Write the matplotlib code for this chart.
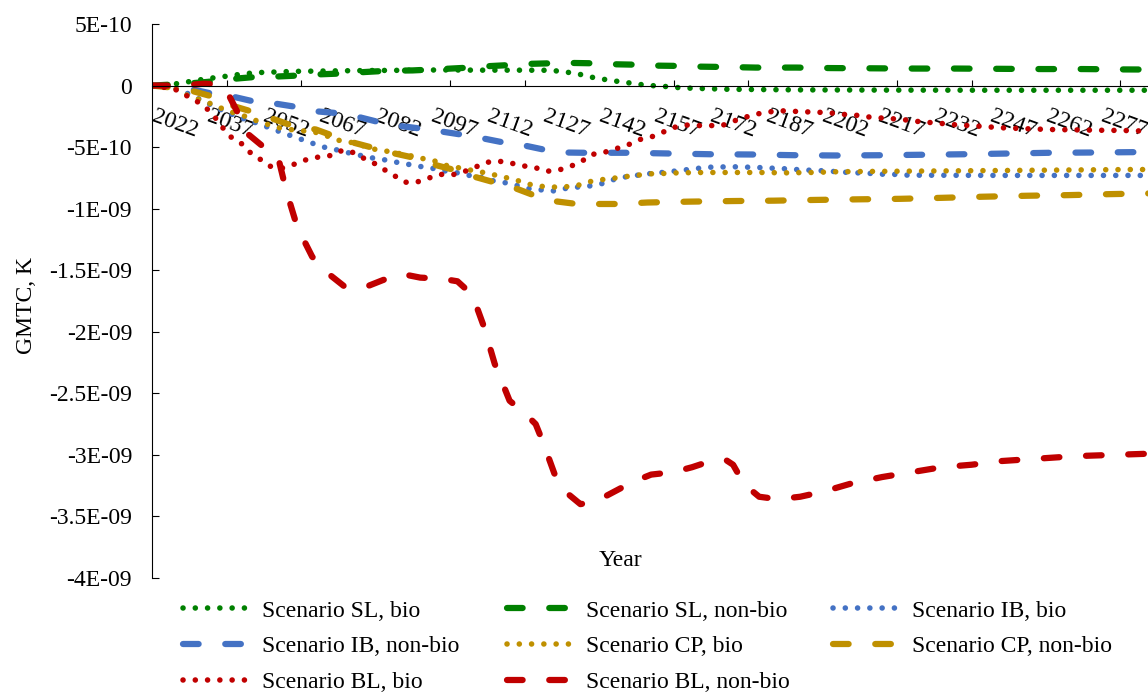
import matplotlib
matplotlib.use("Agg")
import matplotlib.pyplot as plt
from matplotlib.transforms import ScaledTranslation

plt.rcParams['font.family'] = ['Liberation Serif', 'DejaVu Serif']

# Values are given in units of 1e-10 K
UNIT = 1e-10

sl_bio_years = [2022, 2028, 2031, 2034, 2037, 2040, 2043, 2047, 2051, 2055, 2060, 2070, 2080,
                2090, 2100, 2110, 2120, 2128, 2131, 2134, 2137, 2140, 2143, 2147, 2150, 2153,
                2156, 2160, 2163, 2167, 2172, 2176, 2183, 2195, 2220, 2250, 2290]
sl_bio = [0, 0.12, 0.27, 0.42, 0.57, 0.68, 0.8, 0.97, 1.06, 1.1, 1.15, 1.19, 1.22,
          1.24, 1.27, 1.25, 1.25, 1.24, 1.18, 1.06, 0.9, 0.68, 0.52, 0.34, 0.22, 0.09,
          0.0, -0.08, -0.16, -0.22, -0.26, -0.3, -0.32, -0.35, -0.37, -0.38, -0.38]

sl_nonbio_years = [2022, 2030, 2037, 2044, 2049, 2056, 2061, 2066, 2072, 2078, 2085, 2092,
                   2101, 2106, 2112, 2117, 2123, 2128, 2134, 2140, 2146, 2151, 2157, 2162,
                   2168, 2173, 2179, 2184, 2195, 2204, 2216, 2227, 2238, 2249, 2261, 2272,
                   2283, 2290]
sl_nonbio = [0, 0.12, 0.3, 0.55, 0.68, 0.74, 0.81, 0.9, 0.97, 1.08, 1.2, 1.23,
             1.36, 1.44, 1.57, 1.65, 1.76, 1.8, 1.84, 1.81, 1.73, 1.7, 1.62, 1.6,
             1.54, 1.52, 1.49, 1.46, 1.46, 1.42, 1.4, 1.38, 1.38, 1.36, 1.34, 1.34,
             1.31, 1.3]

ib_bio_years = [2022, 2028, 2032, 2036, 2040, 2044, 2048, 2050, 2053, 2056, 2059, 2062, 2065,
                2068, 2072, 2075, 2078, 2081, 2085, 2088, 2091, 2094, 2098, 2101, 2104,
                2107, 2110, 2114, 2117, 2120, 2124, 2127, 2130, 2133, 2137, 2140, 2143,
                2146, 2150, 2153, 2156, 2159, 2162, 2166, 2169, 2172, 2175, 2179, 2182,
                2185, 2189, 2192, 2195, 2198, 2202, 2205, 2208, 2212, 2215, 2218, 2222,
                2225, 2250, 2290]
ib_bio = [0, -0.2, -0.7, -1.3, -1.9, -2.4, -2.85, -3.03, -3.37, -3.71, -4.04, -4.36, -4.68,
          -4.99, -5.25, -5.48, -5.68, -5.87, -6.06, -6.25, -6.41, -6.57, -6.76, -6.96, -7.09,
          -7.29, -7.43, -7.77, -7.9, -8.12, -8.44, -8.48, -8.56, -8.36, -8.22, -8.14, -7.95,
          -7.63, -7.36, -7.26, -7.14, -7.06, -6.96, -6.82, -6.71, -6.63, -6.61, -6.6, -6.63,
          -6.66, -6.72, -6.76, -6.82, -6.87, -6.92, -6.98, -7.04, -7.1, -7.14, -7.2, -7.22,
          -7.28, -7.3, -7.3]

ib_nonbio_years = [2022, 2030, 2033, 2038, 2044, 2049, 2055, 2060, 2066, 2071, 2077, 2082,
                   2089, 2094, 2099, 2105, 2111, 2116, 2122, 2127, 2133, 2138, 2150, 2161,
                   2172, 2183, 2195, 2206, 2217, 2229, 2240, 2252, 2263, 2274, 2285, 2290]
ib_nonbio = [0, -0.1, -0.32, -0.65, -0.92, -1.27, -1.46, -1.7, -2.09, -2.22, -2.52, -2.9,
             -3.3, -3.49, -3.7, -3.98, -4.3, -4.6, -4.87, -5.19, -5.44, -5.46, -5.46, -5.52,
             -5.58, -5.6, -5.66, -5.68, -5.66, -5.62, -5.58, -5.52, -5.46, -5.44, -5.41, -5.4]

cp_bio_years = [2022, 2028, 2031, 2034, 2038, 2041, 2044, 2047, 2050, 2054, 2057, 2062,
                2066, 2069, 2072, 2076, 2082, 2085, 2089, 2092, 2095, 2098, 2102, 2105,
                2108, 2111, 2115, 2118, 2121, 2124, 2127, 2131, 2134, 2137, 2140, 2144,
                2147, 2150, 2153, 2157, 2160, 2163, 2170, 2185, 2192, 2199, 2206, 2213,
                2222, 2250, 2285, 2290]
cp_bio = [0, -0.2, -0.73, -1.06, -1.5, -1.89, -2.22, -2.5, -2.85, -3.25, -3.51, -3.66,
          -3.81, -4.1, -4.44, -4.65, -5.19, -5.33, -5.56, -5.74, -5.95, -6.14, -6.6, -6.7,
          -6.9, -7.06, -7.33, -7.55, -7.79, -8.08, -8.2, -8.26, -8.2, -8.06, -7.77, -7.59,
          -7.49, -7.36, -7.26, -7.14, -7.14, -7.09, -7.06, -7.06, -7.09, -7.06, -7.0, -6.98,
          -6.96, -6.9, -6.82, -6.82]

cp_nonbio_years = [2022, 2030, 2033, 2038, 2044, 2050, 2055, 2060, 2066, 2071, 2076, 2081,
                   2086, 2092, 2097, 2103, 2108, 2114, 2119, 2124, 2130, 2135, 2141, 2147,
                   2155, 2166, 2178, 2189, 2200, 2212, 2223, 2234, 2245, 2257, 2268, 2279,
                   2288, 2290]
cp_nonbio = [0, -0.25, -0.46, -0.87, -1.68, -2.22, -2.76, -3.3, -3.57, -4.12, -4.63, -5.03,
             -5.44, -5.84, -6.37, -6.84, -7.36, -7.87, -8.28, -8.85, -9.39, -9.58, -9.62, -9.62,
             -9.5, -9.43, -9.38, -9.35, -9.29, -9.24, -9.2, -9.12, -9.03, -8.95, -8.9, -8.82,
             -8.77, -8.76]

bl_bio_years = [2022, 2028, 2031, 2034, 2037, 2039, 2041, 2043, 2046, 2048, 2051, 2054,
                2057, 2060, 2063, 2066, 2070, 2072, 2075, 2078, 2081, 2084, 2087, 2090,
                2093, 2096, 2099, 2103, 2105, 2109, 2112, 2115, 2118, 2121, 2125, 2128,
                2131, 2134, 2137, 2140, 2143, 2146, 2150, 2153, 2156, 2159, 2162, 2165,
                2168, 2172, 2175, 2178, 2181, 2184, 2188, 2191, 2194, 2197, 2201, 2204,
                2208, 2211, 2214, 2217, 2221, 2224, 2227, 2230, 2234, 2237, 2244, 2250,
                2257, 2263, 2270, 2276, 2283, 2290]
bl_bio = [0, -0.27, -0.77, -1.27, -1.95, -2.62, -3.43, -4.14, -4.71, -5.36, -5.98, -6.6,
          -6.7, -6.41, -6.06, -5.84, -5.68, -5.33, -5.28, -5.79, -6.19, -6.76, -7.31, -7.85,
          -7.85, -7.55, -7.22, -7.22, -7.09, -6.6, -6.23, -6.14, -6.27, -6.49, -6.68, -6.96,
          -6.88, -6.6, -6.23, -5.6, -5.46, -5.19, -4.79, -4.38, -4.18, -3.81, -3.41, -3.2,
          -3.25, -3.25, -3.25, -2.9, -2.6, -2.33, -2.13, -2.05, -2.09, -2.13, -2.17, -2.22,
          -2.35, -2.41, -2.54, -2.62, -2.7, -2.78, -2.9, -2.98, -3.08, -3.17, -3.3, -3.43,
          -3.51, -3.57, -3.6, -3.63, -3.65, -3.71]

bl_nonbio_years = [2022, 2030, 2036, 2040, 2042, 2045, 2048, 2052, 2056, 2058, 2061, 2065,
                   2069, 2074, 2079, 2084, 2089, 2094, 2100, 2104, 2108, 2111, 2114, 2118,
                   2122, 2125, 2127, 2130, 2133, 2137, 2141, 2146, 2151, 2156, 2162, 2167,
                   2172, 2176, 2178, 2181, 2185, 2190, 2196, 2202, 2210, 2218, 2226, 2234,
                   2242, 2250, 2260, 2270, 2280, 2290]
bl_nonbio = [0, 0, 0.15, 0.1, -0.4, -2.2, -4.0, -5.0, -6.0, -8.5, -11.5, -13.9,
             -15.2, -16.4, -16.4, -15.8, -15.3, -15.6, -15.7, -15.9, -17.0, -19.5, -22.6, -25.6,
             -26.6, -27.5, -29.0, -31.5, -33.0, -34.0, -33.8, -33.0, -32.2, -31.6, -31.4, -31.0,
             -30.5, -30.4, -30.8, -32.4, -33.4, -33.6, -33.4, -33.0, -32.3, -31.8, -31.4, -31.0,
             -30.8, -30.5, -30.3, -30.1, -30.0, -29.9]

x_label_years = list(range(2022, 2278, 15))
x_mark_years = list(range(2042, 2283, 20))
y_tick_values = [5, 0, -5, -10, -15, -20, -25, -30, -35, -40]
y_tick_labels = ['5E-10', '0', '-5E-10', '-1E-09', '-1.5E-09', '-2E-09',
                 '-2.5E-09', '-3E-09', '-3.5E-09', '-4E-09']

GREEN = '#008000'
BLUE = '#4472C4'
GOLD = '#BF9000'
RED = '#C00000'

DOT = (0, (0.01, 2.2))
DASH = (0, (2.5, 4.26))
LW_DOT = 4.0
LW_DASH = 4.5

series = [
    ('Scenario SL, bio', sl_bio_years, sl_bio, GREEN, DOT, LW_DOT),
    ('Scenario SL, non-bio', sl_nonbio_years, sl_nonbio, GREEN, DASH, LW_DASH),
    ('Scenario IB, bio', ib_bio_years, ib_bio, BLUE, DOT, LW_DOT),
    ('Scenario IB, non-bio', ib_nonbio_years, ib_nonbio, BLUE, DASH, LW_DASH),
    ('Scenario CP, bio', cp_bio_years, cp_bio, GOLD, DOT, LW_DOT),
    ('Scenario CP, non-bio', cp_nonbio_years, cp_nonbio, GOLD, DASH, LW_DASH),
    ('Scenario BL, bio', bl_bio_years, bl_bio, RED, DOT, LW_DOT),
    ('Scenario BL, non-bio', bl_nonbio_years, bl_nonbio, RED, DASH, LW_DASH),
]

W, H = 1148, 692
fig = plt.figure(figsize=(W / 100, H / 100), dpi=100)
left, right, top, bottom = 152, 1148, 24, 578
ax = fig.add_axes([left / W, 1 - bottom / H, (right - left) / W, (bottom - top) / H])

px_per_year = 3.725
ax.set_xlim(2022, 2022 + (right - left) / px_per_year)
ax.set_ylim(-40 * UNIT, 5 * UNIT)

lines = []
for label, yrs, vals, color, ls, lw in series:
    ln, = ax.plot(yrs, [v * UNIT for v in vals], color=color, linestyle=ls, linewidth=lw,
                  dash_capstyle='round', solid_capstyle='round', label=label)
    lines.append(ln)

# axes: y axis on the left, x axis crossing at zero
for s in ('top', 'right'):
    ax.spines[s].set_visible(False)
ax.spines['bottom'].set_position(('data', 0))
for s in ('left', 'bottom'):
    ax.spines[s].set_linewidth(0.8)
    ax.spines[s].set_color('black')

ax.set_xticks(x_label_years)
ax.set_xticklabels([str(y) for y in x_label_years])
ax.set_xticks(x_mark_years, minor=True)
ax.tick_params(axis='x', which='major', length=0, pad=15, labelsize=17)
ax.tick_params(axis='x', which='minor', direction='in', length=4.3, width=0.8)
shift = ScaledTranslation(4 / 100, 0, fig.dpi_scale_trans)
for lab in ax.get_xticklabels():
    lab.set_rotation(-20)
    lab.set_ha('left')
    lab.set_va('top')
    lab.set_rotation_mode('anchor')
    lab.set_transform(lab.get_transform() + shift)

ax.set_yticks([v * UNIT for v in y_tick_values])
ax.set_yticklabels(y_tick_labels)
ax.tick_params(axis='y', which='major', direction='in', length=5, width=0.8, pad=14.4,
               labelsize=17)

fig.text(27 / W, 1 - 305 / H, 'GMTC, K', rotation=90, ha='center', va='center', fontsize=17)
fig.text(620 / W, 1 - 560 / H, 'Year', ha='center', va='center', fontsize=17)

# legend laid out in three columns
col_x = [183, 507, 833]
columns = [[0, 3, 6], [1, 4, 7], [2, 5]]
legend_top = 600
for cx, idx in zip(col_x, columns):
    fig.legend([lines[i] for i in idx], [series[i][0] for i in idx],
               loc='upper left', bbox_to_anchor=(cx / W, 1 - legend_top / H),
               bbox_transform=fig.transFigure, frameon=False, fontsize=17,
               borderpad=0, borderaxespad=0, handlelength=2.84, handletextpad=0.5,
               labelspacing=0.6)

fig.savefig('out.png', dpi=100)
